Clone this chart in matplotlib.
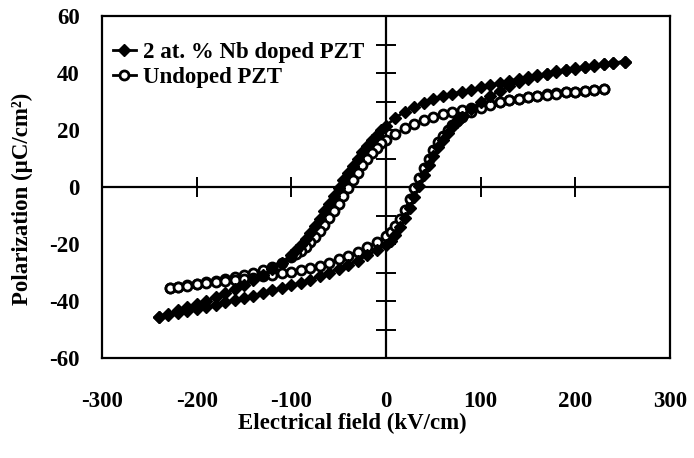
import numpy as np
import matplotlib
matplotlib.use("Agg")
import matplotlib.pyplot as plt

plt.rcParams['font.family'] = ['Liberation Serif', 'DejaVu Serif']
plt.rcParams['font.weight'] = 'bold'
plt.rcParams['axes.unicode_minus'] = False

# 2 at.% Nb doped PZT, descending branch (+E max -> -E max)
nb_down_E = [252, 240, 230, 220, 210, 200, 190, 180, 170, 160, 150, 140, 130, 120, 110, 100,
             90, 80, 70, 60, 50, 40, 30, 20, 10, 0, -5, -10, -15, -20, -25, -30, -35, -40,
             -45, -50, -55, -60, -65, -70, -75, -80, -85, -90, -95, -100, -110, -120, -130,
             -140, -150, -160, -170, -180, -190, -200, -210, -220, -230, -240]
nb_down_P = [44.0, 43.5, 43.0, 42.6, 42.0, 41.5, 41.0, 40.4, 39.8, 39.2, 38.5, 37.9, 37.2, 36.5,
             35.8, 35.0, 34.2, 33.5, 32.7, 31.8, 30.8, 29.6, 28.2, 26.5, 24.3, 21.5, 20.0, 18.3,
             16.4, 14.5, 12.3, 10.0, 7.5, 5.0, 2.4, -0.3, -3.0, -5.8, -8.5, -11.2, -13.8, -16.2,
             -18.4, -20.4, -22.2, -23.8, -26.6, -28.9, -30.9, -32.7, -34.4, -35.9, -37.3, -38.6,
             -39.9, -41.1, -42.2, -43.3, -44.4, -45.5]

# 2 at.% Nb doped PZT, ascending branch
nb_up_E = [-240, -230, -220, -210, -200, -190, -180, -170, -160, -150, -140, -130, -120, -110,
           -100, -90, -80, -70, -60, -50, -40, -30, -20, -10, 0, 5, 10, 15, 20, 25, 30, 35, 40,
           45, 50, 55, 60, 65, 70, 75, 80, 90, 100, 110, 120, 130, 140, 150, 160, 170, 180, 190,
           200, 210, 220, 230, 240, 252]
nb_up_P = [-45.5, -44.9, -44.3, -43.6, -42.9, -42.1, -41.3, -40.5, -39.7, -38.9, -38.1, -37.2,
           -36.3, -35.4, -34.5, -33.6, -32.5, -31.3, -30.0, -28.6, -27.3, -25.8, -24.0, -22.2,
           -20.3, -18.8, -16.8, -14.2, -11.0, -7.5, -3.5, 0.5, 4.3, 7.8, 11.0, 13.9, 16.5, 18.8,
           20.9, 22.8, 24.5, 27.4, 29.8, 31.9, 33.7, 35.3, 36.7, 37.9, 38.9, 39.8, 40.6, 41.2,
           41.7, 42.2, 42.7, 43.2, 43.6, 44.0]

# undoped PZT, descending branch
un_down_E = [230, 220, 210, 200, 190, 180, 170, 160, 150, 140, 130, 120, 110, 100, 90, 80, 70,
             60, 50, 40, 30, 20, 10, 0, -5, -10, -15, -20, -25, -30, -35, -40, -45, -50, -55,
             -60, -65, -70, -75, -80, -85, -90, -95, -100, -110, -120, -130, -140, -150, -160,
             -170, -180, -190, -200, -210, -220, -228]
un_down_P = [34.4, 34.1, 33.8, 33.5, 33.2, 32.9, 32.6, 32.1, 31.6, 31.0, 30.4, 29.8, 29.1, 28.4,
             27.7, 27.0, 26.3, 25.5, 24.6, 23.5, 22.2, 20.6, 18.7, 16.6, 15.3, 13.8, 12.0, 10.0,
             7.6, 5.0, 2.4, -0.2, -3.0, -5.8, -8.5, -11.0, -13.4, -15.6, -17.6, -19.4, -21.0,
             -22.4, -23.6, -24.7, -26.5, -27.9, -29.0, -30.0, -30.9, -31.6, -32.3, -32.9, -33.5,
             -34.0, -34.5, -35.0, -35.3]

# undoped PZT, ascending branch
un_up_E = [-228, -220, -210, -200, -190, -180, -170, -160, -150, -140, -130, -120, -110, -100,
           -90, -80, -70, -60, -50, -40, -30, -20, -10, 0, 5, 10, 15, 20, 25, 30, 35, 40, 45, 50,
           55, 60, 65, 70, 75, 80, 90, 100, 110, 120, 130, 140, 150, 160, 170, 180, 190, 200,
           210, 220, 230]
un_up_P = [-35.3, -35.0, -34.6, -34.2, -33.8, -33.4, -33.0, -32.6, -32.2, -31.8, -31.3, -30.8,
           -30.3, -29.7, -29.1, -28.4, -27.6, -26.6, -25.4, -24.1, -22.7, -21.1, -19.3, -17.2,
           -15.8, -13.8, -11.2, -8.0, -4.3, -0.5, 3.2, 6.7, 10.0, 13.0, 15.7, 18.0, 20.0, 21.8,
           23.3, 24.6, 26.5, 27.6, 28.9, 29.8, 30.4, 31.0, 31.5, 32.0, 32.4, 32.8, 33.2, 33.5,
           33.8, 34.1, 34.4]

x_ticks = [-300, -200, -100, 0, 100, 200, 300]
y_ticks = [-60, -40, -20, 0, 20, 40, 60]
# small crossing ticks drawn on the zero axes
x_inner = [-200, -100, 100, 200]
y_inner = [-50, -40, -30, -20, -10, 10, 20, 30, 40, 50]

fig = plt.figure(figsize=(6.94, 4.58), dpi=100)
ax = fig.add_axes([0.147, 0.2183, 0.8184, 0.7467])

nb_E = nb_down_E + nb_up_E
nb_P = nb_down_P + nb_up_P
un_E = un_down_E + un_up_E
un_P = un_down_P + un_up_P

ax.plot(un_E, un_P, color='black', lw=2, marker='o', ms=6.5, mfc='white', mec='black',
        mew=2, label='Undoped PZT', zorder=3)
ax.plot(nb_E, nb_P, color='black', lw=2, marker='D', ms=6.5, mfc='black', mec='black',
        label='2 at. % Nb doped PZT', zorder=4)

ax.axhline(0, color='black', lw=1.6, zorder=2)
ax.axvline(0, color='black', lw=1.6, zorder=2)
ax.plot(x_inner, np.zeros(len(x_inner)), ls='none', marker='|', ms=15, mew=1.4, color='black')
ax.plot(np.zeros(len(y_inner)), y_inner, ls='none', marker='_', ms=15, mew=1.4, color='black')

ax.set_xlim(-300, 300)
ax.set_ylim(-60, 60)
ax.set_xticks(x_ticks)
ax.set_yticks(y_ticks)
ax.tick_params(length=0, labelsize=16.5)
ax.tick_params(axis='x', pad=24)
ax.tick_params(axis='y', pad=16)
for s in ax.spines.values():
    s.set_linewidth(1.6)

ax.set_xlabel('Electrical field (kV/cm)', fontsize=16.5, fontweight='bold', labelpad=0)
ax.xaxis.set_label_coords(0.44, -0.16)
ax.set_ylabel('Polarization (µC/cm²)', fontsize=16.5, fontweight='bold')
ax.yaxis.set_label_coords(-0.122, 0.465)

h, l = ax.get_legend_handles_labels()
ax.legend(h[::-1], l[::-1], loc='upper left', frameon=False, fontsize=16.5,
          handlelength=1.0, handletextpad=0.3, labelspacing=0.2,
          borderaxespad=0.2, bbox_to_anchor=(-0.005, 0.965))

fig.savefig('out.png', dpi=100)
